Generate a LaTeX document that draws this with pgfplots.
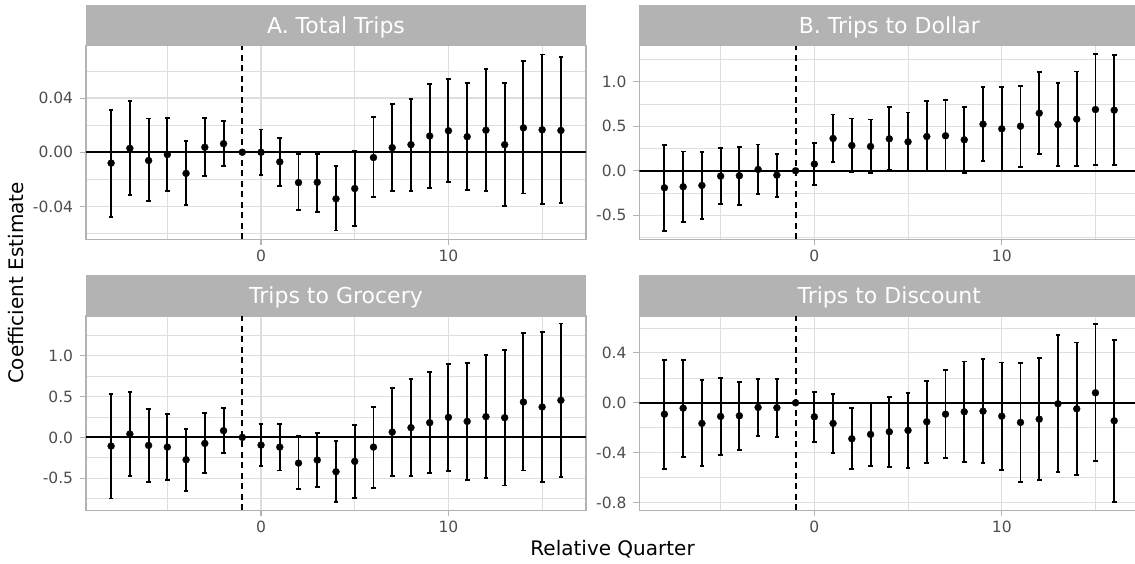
\documentclass[border=0pt]{standalone}
\usepackage{fontspec}
\setmainfont{DejaVu Sans}
\usepackage{pgfplots}
\pgfplotsset{compat=1.18}
\usepackage{pgfplotstable}

\definecolor{stripgray}{HTML}{B3B3B3}
\definecolor{gridgray}{HTML}{DEDEDE}
\definecolor{ticktext}{HTML}{4D4D4D}

% quarter, point estimate, lower and upper bound of the 95% interval
\pgfplotstableread{
q est lo hi
-8 -0.0080 -0.0480 0.0315
-7 0.0029 -0.0315 0.0378
-6 -0.0061 -0.0363 0.0249
-5 -0.0017 -0.0283 0.0251
-4 -0.0156 -0.0390 0.0083
-3 0.0037 -0.0176 0.0251
-2 0.0063 -0.0102 0.0234
-1 0 0 0
0 0.0000 -0.0168 0.0168
1 -0.0071 -0.0249 0.0107
2 -0.0224 -0.0429 -0.0015
3 -0.0222 -0.0439 -0.0010
4 -0.0344 -0.0578 -0.0102
5 -0.0268 -0.0546 0.0012
6 -0.0039 -0.0332 0.0259
7 0.0034 -0.0288 0.0359
8 0.0056 -0.0285 0.0393
9 0.0120 -0.0263 0.0507
10 0.0159 -0.0222 0.0539
11 0.0115 -0.0278 0.0512
12 0.0163 -0.0285 0.0612
13 0.0056 -0.0398 0.0512
14 0.0180 -0.0305 0.0676
15 0.0166 -0.0385 0.0722
16 0.0161 -0.0378 0.0702
}\tabTotal

\pgfplotstableread{
q est lo hi
-8 -0.191 -0.673 0.292
-7 -0.180 -0.572 0.217
-6 -0.165 -0.542 0.209
-5 -0.060 -0.374 0.251
-4 -0.056 -0.381 0.266
-3 0.015 -0.266 0.295
-2 -0.049 -0.295 0.191
-1 0 0 0
0 0.075 -0.157 0.310
1 0.363 0.097 0.632
2 0.284 -0.015 0.587
3 0.273 -0.030 0.576
4 0.359 0.007 0.714
5 0.325 -0.007 0.655
6 0.385 -0.004 0.785
7 0.393 -0.007 0.793
8 0.348 -0.030 0.718
9 0.524 0.108 0.942
10 0.471 -0.004 0.942
11 0.501 0.045 0.954
12 0.647 0.187 1.111
13 0.520 0.056 0.987
14 0.580 0.052 1.115
15 0.688 0.064 1.316
16 0.681 0.064 1.302
}\tabDollar

\pgfplotstableread{
q est lo hi
-8 -0.106 -0.748 0.531
-7 0.041 -0.474 0.556
-6 -0.098 -0.544 0.352
-5 -0.119 -0.527 0.286
-4 -0.274 -0.662 0.106
-3 -0.074 -0.437 0.298
-2 0.082 -0.192 0.360
-1 0 0 0
0 -0.094 -0.347 0.159
1 -0.119 -0.405 0.164
2 -0.315 -0.634 0.016
3 -0.278 -0.609 0.053
4 -0.421 -0.793 -0.045
5 -0.294 -0.744 0.151
6 -0.119 -0.617 0.376
7 0.065 -0.474 0.605
8 0.119 -0.474 0.711
9 0.180 -0.437 0.797
10 0.245 -0.413 0.899
11 0.196 -0.523 0.908
12 0.253 -0.499 1.006
13 0.241 -0.589 1.067
14 0.433 -0.405 1.280
15 0.372 -0.548 1.292
16 0.454 -0.482 1.394
}\tabGrocery

\pgfplotstableread{
q est lo hi
-8 -0.091 -0.531 0.344
-7 -0.043 -0.435 0.344
-6 -0.165 -0.509 0.181
-5 -0.109 -0.419 0.200
-4 -0.104 -0.379 0.168
-3 -0.037 -0.269 0.192
-2 -0.040 -0.275 0.192
-1 0 0 0
0 -0.112 -0.315 0.088
1 -0.165 -0.405 0.072
2 -0.288 -0.533 -0.040
3 -0.253 -0.509 0.000
4 -0.232 -0.512 0.045
5 -0.221 -0.523 0.077
6 -0.152 -0.480 0.176
7 -0.091 -0.445 0.261
8 -0.072 -0.472 0.331
9 -0.067 -0.485 0.352
10 -0.107 -0.536 0.323
11 -0.157 -0.632 0.317
12 -0.131 -0.621 0.357
13 -0.008 -0.555 0.541
14 -0.048 -0.581 0.483
15 0.080 -0.467 0.629
16 -0.144 -0.792 0.504
}\tabDiscount

\pgfplotsset{
  panel/.style={
    scale only axis, width=500pt, height=193.6pt, anchor=south west,
    xmin=-9.34, xmax=17.34,
    axis line style={stripgray, line width=1.1pt},
    tick align=outside, tick pos=left,
    major tick length=6pt, minor tick length=0pt,
    every tick/.style={stripgray, line width=1.1pt},
    xtick={0,10}, xticklabels={0,10}, minor xtick={-5,5,15},
    scaled y ticks=false,
    grid=both,
    major grid style={gridgray, line width=1.2pt},
    minor grid style={gridgray, line width=0.6pt},
    ticklabel style={font=\fontsize{15.5}{18}\selectfont, text=ticktext, inner sep=0pt},
    xticklabel style={anchor=north, yshift=-4.7pt},
    yticklabel style={anchor=east, xshift=-6.7pt},
  },
  refline/.style={black, line width=1.8pt, no marks},
  dashline/.style={black, line width=1.8pt, dash pattern=on 6pt off 4.5pt, no marks},
  coefs/.style={black, only marks, mark=*, mark size=3.5pt,
    mark options={solid, fill=black, line width=0.3pt},
    error bars/.cd, y dir=both, y explicit,
    error bar style={black, line width=1.9pt},
    error mark=-, error mark options={rotate=90, black, line width=1.9pt, mark size=2.35pt}},
}

\newcommand{\coefplot}[1]{%
  \addplot[coefs] table[x=q, y=est,
    y error plus expr=\thisrow{hi}-\thisrow{est},
    y error minus expr=\thisrow{est}-\thisrow{lo}] {#1};}

\begin{document}
\begin{tikzpicture}
\useasboundingbox (0,0) rectangle (1135pt,-563pt);
\clip (0,0) rectangle (1135pt,-563pt);

% A. Total Trips
\begin{axis}[panel, name=A, at={(86pt,-239.3pt)},
  ymin=-0.0643, ymax=0.0787,
  ytick={-0.04,0,0.04}, yticklabels={-0.04,0.00,0.04},
  minor ytick={-0.06,-0.02,0.02,0.06}]
\addplot[refline] coordinates {(-9.34,0) (17.34,0)};
\addplot[dashline] coordinates {(-1,-0.0643) (-1,0.0787)};
\coefplot{\tabTotal}
\end{axis}

% B. Trips to Dollar
\begin{axis}[panel, name=B, at={(639.3pt,-239.3pt)},
  ymin=-0.770, ymax=1.405,
  ytick={-0.5,0,0.5,1.0}, yticklabels={-0.5,0.0,0.5,1.0},
  minor ytick={-0.75,-0.25,0.25,0.75,1.25}]
\addplot[refline] coordinates {(-9.34,0) (17.34,0)};
\addplot[dashline] coordinates {(-1,-0.770) (-1,1.405)};
\coefplot{\tabDollar}
\end{axis}

% Trips to Grocery
\begin{axis}[panel, name=C, at={(86pt,-510.3pt)}, height=194.3pt,
  ymin=-0.893, ymax=1.486,
  ytick={-0.5,0,0.5,1.0}, yticklabels={-0.5,0.0,0.5,1.0},
  minor ytick={-0.75,-0.25,0.25,0.75,1.25}]
\addplot[refline] coordinates {(-9.34,0) (17.34,0)};
\addplot[dashline] coordinates {(-1,-0.893) (-1,1.486)};
\coefplot{\tabGrocery}
\end{axis}

% Trips to Discount
\begin{axis}[panel, name=D, at={(639.3pt,-510.3pt)}, height=194.3pt,
  ymin=-0.861, ymax=0.695,
  ytick={-0.8,-0.4,0,0.4}, yticklabels={-0.8,-0.4,0.0,0.4},
  minor ytick={-0.6,-0.2,0.2,0.6}]
\addplot[refline] coordinates {(-9.34,0) (17.34,0)};
\addplot[dashline] coordinates {(-1,-0.861) (-1,0.695)};
\coefplot{\tabDiscount}
\end{axis}

% facet strips
\foreach \p/\t in {A/{A. Total Trips}, B/{B. Trips to Dollar}, C/{Trips to Grocery}, D/{Trips to Discount}}{
  \fill[stripgray] (\p.north west) rectangle ([yshift=40.7pt]\p.north east);
  \node[anchor=base, text=white, inner sep=0pt, font=\fontsize{22}{26}\selectfont]
    at ([yshift=12.4pt]\p.north) {\t};
}

% axis titles
\node[anchor=base, inner sep=0pt, font=\fontsize{20}{24}\selectfont] at (612.6pt,-555.5pt) {Relative Quarter};
\node[rotate=90, inner sep=0pt, font=\fontsize{20}{24}\selectfont] at (15.8pt,-283pt) {Coefficient Estimate};
\end{tikzpicture}
\end{document}
